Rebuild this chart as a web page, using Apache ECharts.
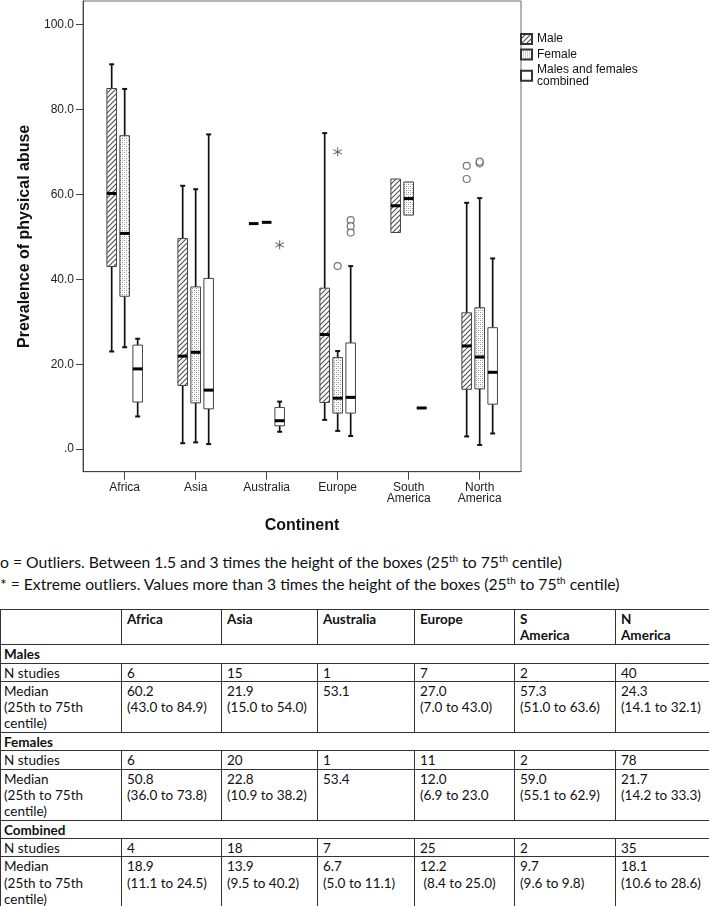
<!DOCTYPE html>
<html><head><meta charset="utf-8">
<script src="https://cdn.jsdelivr.net/npm/echarts@6/dist/echarts.min.js"></script>
<style>
html,body{margin:0;padding:0;background:#fff;width:709px;height:906px;overflow:hidden;}
#chart{position:absolute;left:0;top:0;width:709px;height:545px;}
#notes{position:absolute;left:0;top:551px;font-family:Lato,sans-serif;font-size:15.7px;color:#111;line-height:22px;white-space:nowrap;}
#notes sup{font-size:10px;line-height:0;vertical-align:6px;}
#tbl{position:absolute;left:0;top:609px;border-collapse:collapse;table-layout:fixed;width:709px;font-family:Lato,sans-serif;font-size:13.5px;color:#111;}
#tbl td{border:1px solid #333;padding:1px 2px 0 5px;vertical-align:top;line-height:16.3px;white-space:pre;overflow:hidden;}
#tbl td.f{padding-left:3px;}
#tbl td.b{font-weight:bold;}
</style>
</head><body>
<div id="chart"></div>
<div id="notes"></div>
<table id="tbl"></table>
<script>
// ---------- chart data ----------
const continents = ['Africa','Asia','Australia','Europe','South America','North America'];
const axisLabels = ['Africa','Asia','Australia','Europe','South\nAmerica','North\nAmerica'];
const yTicks = [0,20,40,60,80,100];
const groups = ['Male','Female','Males and females combined'];
// [min, q1, median, q3, max] per continent
const maleBox     = [[23.0,43.0,60.2,84.9,90.6],[1.4,15.0,21.9,49.6,62.0],[53.1,53.1,53.1,53.1,53.1],[6.9,11.0,27.0,37.9,74.4],[51.0,51.0,57.3,63.6,63.6],[3.0,14.1,24.3,32.1,58.0]];
const femaleBox   = [[24.0,36.0,50.8,73.8,84.8],[1.6,10.9,22.8,38.2,61.2],[53.4,53.4,53.4,53.4,53.4],[4.3,8.5,12.0,21.6,23.1],[55.1,55.1,59.0,62.9,62.9],[1.0,14.2,21.7,33.3,59.1]];
const combinedBox = [[7.7,11.1,18.9,24.5,26.0],[1.2,9.5,13.9,40.2,74.1],[4.1,5.5,6.7,9.8,11.2],[3.1,8.5,12.2,25.0,43.1],[9.6,9.6,9.7,9.8,9.8],[3.7,10.6,18.1,28.6,44.9]];
// outliers: [continent index, value]
const maleOutliers      = [[5,66.7],[5,63.6]];
const femaleOutliers    = [[3,43.1],[5,67.3],[5,67.7]];
const femaleExtremes    = [[3,70.0]];
const combinedOutliers  = [[3,53.9],[3,52.5],[3,51.0]];
const combinedExtremes  = [[2,48.1]];

// ---------- table data ----------
const tableHeader = ['', 'Africa','Asia','Australia','Europe','S\nAmerica','N\nAmerica'];
const sectionNames = ['Males','Females','Combined'];
const nStudies = [[6,15,1,7,2,40],[6,20,1,11,2,78],[4,18,7,25,2,35]];
const medianText = [
  ['60.2\n(43.0 to 84.9)','21.9\n(15.0 to 54.0)','53.1','27.0\n(7.0 to 43.0)','57.3\n(51.0 to 63.6)','24.3\n(14.1 to 32.1)'],
  ['50.8\n(36.0 to 73.8)','22.8\n(10.9 to 38.2)','53.4','12.0\n(6.9 to 23.0','59.0\n(55.1 to 62.9)','21.7\n(14.2 to 33.3)'],
  ['18.9\n(11.1 to 24.5)','13.9\n(9.5 to 40.2)','6.7\n(5.0 to 11.1)','12.2\n (8.4 to 25.0)','9.7\n(9.6 to 9.8)','18.1\n(10.6 to 28.6)']
];
const noteLines = [
  'o = Outliers. Between 1.5 and 3 times the height of the boxes (25<sup>th</sup> to 75<sup>th</sup> centile)',
  '* = Extreme outliers. Values more than 3 times the height of the boxes (25<sup>th</sup> to 75<sup>th</sup> centile)'
];

// ---------- patterns ----------
function hatchCanvas(){
  const s=5, cv=document.createElement('canvas'); cv.width=s; cv.height=s;
  const c=cv.getContext('2d');
  c.fillStyle='#fff'; c.fillRect(0,0,s,s);
  c.strokeStyle='#505050'; c.lineWidth=1.1;
  c.beginPath();
  c.moveTo(-1,s+1); c.lineTo(s+1,-1);
  c.moveTo(-1,1); c.lineTo(1,-1);
  c.moveTo(s-1,s+1); c.lineTo(s+1,s-1);
  c.stroke();
  return cv;
}
function dotCanvas(){
  const s=4, cv=document.createElement('canvas'); cv.width=s; cv.height=s;
  const c=cv.getContext('2d');
  c.fillStyle='#fff'; c.fillRect(0,0,s,s);
  c.fillStyle='#8a8a8a'; c.fillRect(0,0,1,1); c.fillRect(2,2,1,1);
  c.fillStyle='#c8c8c8'; c.fillRect(2,0,1,1); c.fillRect(0,2,1,1);
  return cv;
}
const fills = [{image:hatchCanvas(),repeat:'repeat'},{image:dotCanvas(),repeat:'repeat'},'#ffffff'];
const offsets = [-0.183, 0, 0.183];
const boxW = 0.135, capW = 0.07;

function makeRender(gi){
  return function(params, api){
    const c = api.value(0);
    const x = c + offsets[gi];
    const v = [1,2,3,4,5].map(i=>api.value(i));
    const xc = api.coord([x,0])[0];
    const y = v.map(val=>api.coord([x,val])[1]);
    const half = api.size([boxW,0])[0]/2;
    const cap = api.size([capW,0])[0]/2;
    const ch = [];
    const ls = {stroke:'#111', lineWidth:1.7};
    if (v[4] > v[3]) {
      ch.push({type:'line',shape:{x1:xc,y1:y[3],x2:xc,y2:y[4]},style:ls});
      ch.push({type:'line',shape:{x1:xc-cap,y1:y[4],x2:xc+cap,y2:y[4]},style:{stroke:'#111',lineWidth:2}});
    }
    if (v[0] < v[1]) {
      ch.push({type:'line',shape:{x1:xc,y1:y[1],x2:xc,y2:y[0]},style:ls});
      ch.push({type:'line',shape:{x1:xc-cap,y1:y[0],x2:xc+cap,y2:y[0]},style:{stroke:'#111',lineWidth:2}});
    }
    if (v[3] > v[1]) {
      ch.push({type:'rect',shape:{x:xc-half,y:y[3],width:half*2,height:y[1]-y[3]},
        style:{fill:fills[gi],stroke:'#444',lineWidth:1}});
    }
    ch.push({type:'line',shape:{x1:xc-half,y1:y[2],x2:xc+half,y2:y[2]},style:{stroke:'#000',lineWidth:3}});
    return {type:'group',children:ch};
  };
}
function boxData(arr){ return arr.map((b,i)=>[i].concat(b)); }
function ptData(arr,gi){ return arr.map(p=>[p[0]+offsets[gi],p[1]]); }

const starPath = 'path://M4.5 0L5.5 0L5.5 10L4.5 10Z M9.08 2.07L9.58 2.93L0.92 7.93L0.42 7.07Z M0.92 2.07L9.58 7.07L9.08 7.93L0.42 2.93Z';
const circleStyle = {color:'#fff',borderColor:'#555',borderWidth:1.2};
const starStyle = {color:'#333'};

const font = 'Liberation Sans';
const chart = echarts.init(document.getElementById('chart'), null, {renderer:'canvas'});
chart.setOption({
  animation:false,
  backgroundColor:'#fff',
  textStyle:{fontFamily:font},
  grid:{left:83,top:1,right:188,bottom:73.3,show:true,borderColor:'#6a6a6a',borderWidth:1,backgroundColor:'transparent'},
  legend:{
    orient:'vertical',left:520,top:33,padding:0,itemWidth:11,itemHeight:10,itemGap:3.4,
    icon:'rect',data:groups,selectedMode:false,
    textStyle:{fontFamily:font,fontSize:12,color:'#111',lineHeight:12},
    formatter:n=> n==='Males and females combined' ? 'Males and females\ncombined' : n
  },
  xAxis:{
    type:'value',min:-0.587,max:5.582,
    name:'Continent',nameLocation:'middle',nameGap:46,
    nameTextStyle:{fontFamily:font,fontSize:16,fontWeight:'bold',color:'#111'},
    axisLine:{show:true,onZero:false,lineStyle:{color:'#444',width:1}},
    axisTick:{show:true,length:8,customValues:[0,1,2,3,4,5],lineStyle:{color:'#444'}},
    axisLabel:{customValues:[0,1,2,3,4,5],margin:10,fontFamily:font,fontSize:12,color:'#222',lineHeight:11.5,
      formatter:v=>axisLabels[Math.round(v)]},
    splitLine:{show:false}
  },
  yAxis:{
    type:'value',min:-5.3,max:105.5,
    name:'Prevalence of physical abuse',nameLocation:'middle',nameGap:42,
    nameTextStyle:{fontFamily:font,fontSize:16,fontWeight:'bold',color:'#111'},
    axisLine:{show:true,onZero:false,lineStyle:{color:'#444',width:1}},
    axisTick:{show:true,length:7,customValues:yTicks,lineStyle:{color:'#444'}},
    axisLabel:{customValues:yTicks,margin:9,fontFamily:font,fontSize:12,color:'#222',
      formatter:v=> v===0 ? '.0' : v.toFixed(1)},
    splitLine:{show:false}
  },
  series:[
    {type:'custom',name:groups[0],renderItem:makeRender(0),data:boxData(maleBox),encode:{x:0,y:[1,5]},
      itemStyle:{color:fills[0],borderColor:'#333',borderWidth:1}},
    {type:'custom',name:groups[1],renderItem:makeRender(1),data:boxData(femaleBox),encode:{x:0,y:[1,5]},
      itemStyle:{color:fills[1],borderColor:'#333',borderWidth:1}},
    {type:'custom',name:groups[2],renderItem:makeRender(2),data:boxData(combinedBox),encode:{x:0,y:[1,5]},
      itemStyle:{color:'#fff',borderColor:'#333',borderWidth:1}},
    {type:'scatter',name:'maleOut',data:ptData(maleOutliers,0),symbol:'circle',symbolSize:7,itemStyle:circleStyle},
    {type:'scatter',name:'femaleOut',data:ptData(femaleOutliers,1),symbol:'circle',symbolSize:7,itemStyle:circleStyle},
    {type:'scatter',name:'femaleExt',data:ptData(femaleExtremes,1),symbol:starPath,symbolSize:9,itemStyle:starStyle},
    {type:'scatter',name:'combOut',data:ptData(combinedOutliers,2),symbol:'circle',symbolSize:7,itemStyle:circleStyle},
    {type:'scatter',name:'combExt',data:ptData(combinedExtremes,2),symbol:starPath,symbolSize:9,itemStyle:starStyle}
  ]
});

// ---------- notes & table ----------
document.getElementById('notes').innerHTML = noteLines.map(l=>'<div>'+l+'</div>').join('');
const tbl = document.getElementById('tbl');
const colW = [121,100,96,97,100,101,94];
let html = '<colgroup>' + colW.map(w=>'<col style="width:'+w+'px">').join('') + '</colgroup>';
html += '<tr style="height:35px">' + tableHeader.map((h,i)=>'<td class="b'+(i===0?' f':'')+'">'+h+'</td>').join('') + '</tr>';
sectionNames.forEach((s,si)=>{
  html += '<tr style="height:18.5px"><td class="b f" colspan="7">'+s+'</td></tr>';
  html += '<tr style="height:17.5px"><td class="f">N studies</td>' + nStudies[si].map(n=>'<td>'+n+'</td>').join('') + '</tr>';
  html += '<tr style="height:51px"><td class="f">Median\n(25th to 75th\ncentile)</td>' + medianText[si].map(m=>'<td>'+m+'</td>').join('') + '</tr>';
});
tbl.innerHTML = html;
</script>
</body></html>
